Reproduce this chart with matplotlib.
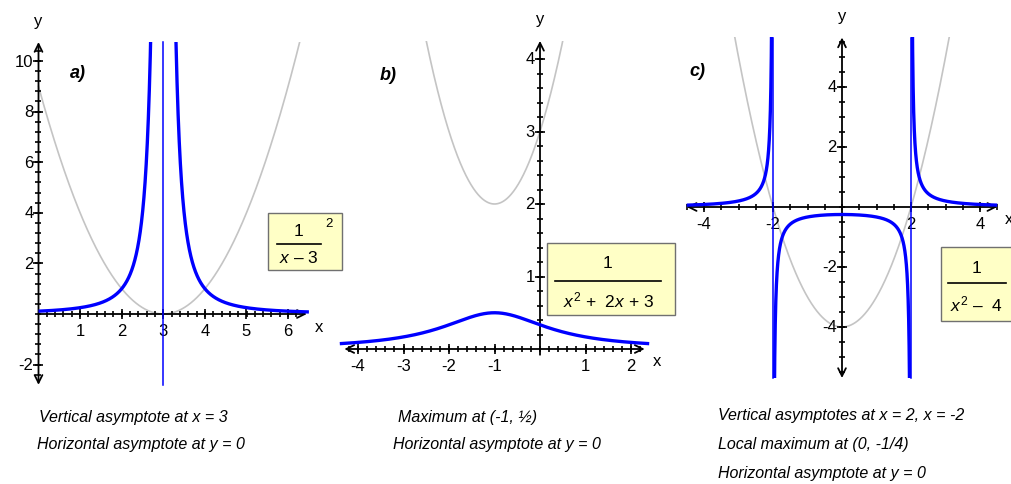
import numpy as np
import matplotlib.pyplot as plt
from matplotlib.patches import Rectangle

plt.rcParams['mathtext.fontset'] = 'custom'
plt.rcParams['mathtext.rm'] = 'Liberation Sans'
plt.rcParams['mathtext.it'] = 'Liberation Sans:italic'

W, H = 1012, 485

# denominators as polynomial coefficients; gray curve = den, blue curve = 1/den
den_a = [1, -6, 9]      # (x - 3)^2
den_b = [1, 2, 3]       # x^2 + 2x + 3
den_c = [1, 0, -4]      # x^2 - 4
asym_a = [3]
asym_b = []
asym_c = [-2, 2]
xrange_a = (0.0, 6.5)
xrange_b = (-4.4, 2.4)
xrange_c = (-4.5, 4.5)

xticks_a = [1, 2, 3, 4, 5, 6]
yticks_a = [-2, 2, 4, 6, 8, 10]
xticks_b = [-4, -3, -2, -1, 1, 2]
yticks_b = [1, 2, 3, 4]
xticks_c = [-4, -2, 2, 4]
yticks_c = [-4, -2, 2, 4]

notes_a = ["Vertical asymptote at x = 3", "Horizontal asymptote at y = 0"]
notes_b = ["Maximum at (-1, ½)", "Horizontal asymptote at y = 0"]
notes_c = ["Vertical asymptotes at x = 2, x = -2", "Local maximum at (0, -1/4)",
           "Horizontal asymptote at y = 0"]

BLUE = '#0000ff'
GRAY = '#c4c4c4'
tickfont = dict(family='Liberation Sans', size=12)

fig = plt.figure(figsize=(W / 100, H / 100), dpi=100)


def panel(ox, oy, sx, sy):
    # axes over the whole figure, origin at pixel (ox, oy), sx/sy pixels per unit
    ax = fig.add_axes([0, 0, 1, 1])
    ax.set_xlim(-ox / sx, (W - ox) / sx)
    ax.set_ylim((oy - H) / sy, oy / sy)
    ax.axis('off')
    return ax


def draw(ax, den, asym, xr, xaxis, yaxis, xt, yt, xminor, yminor, sx, sy):
    x0, x1 = xaxis[0], xaxis[1]
    y0, y1 = yaxis[0], yaxis[1]
    clip = Rectangle((x0 - 1, y0), x1 - x0 + 2, y1 - y0, transform=ax.transData)
    # gray parabola
    xs = np.linspace(xr[0], xr[1], 1500)
    g, = ax.plot(xs, np.polyval(den, xs), color=GRAY, lw=1.2, zorder=2)
    g.set_clip_path(clip)
    # axes with arrows
    ax.annotate('', xy=(x1, 0), xytext=(x0, 0),
                arrowprops=dict(arrowstyle=xaxis[2], color='k', lw=1.3,
                                mutation_scale=14, shrinkA=0, shrinkB=0), zorder=3)
    ax.annotate('', xy=(0, y1), xytext=(0, y0),
                arrowprops=dict(arrowstyle=yaxis[2], color='k', lw=1.3,
                                mutation_scale=14, shrinkA=0, shrinkB=0), zorder=3)
    ms_major, ms_minor = 7.5, 4.5
    ax.plot(xminor, np.zeros(len(xminor)), ls='none', marker='|', ms=ms_minor,
            mew=1.2, color='k', zorder=3)
    ax.plot(xt, np.zeros(len(xt)), ls='none', marker='|', ms=ms_major,
            mew=1.2, color='k', zorder=3)
    ax.plot(np.zeros(len(yminor)), yminor, ls='none', marker='_', ms=ms_minor,
            mew=1.2, color='k', zorder=3)
    ax.plot(np.zeros(len(yt)), yt, ls='none', marker='_', ms=ms_major,
            mew=1.2, color='k', zorder=3)
    for v in xt:
        ax.text(v, -17 / sy, f"{v}", ha='center', va='center', zorder=4, **tickfont)
    for v in yt:
        ax.text(-5 / sx, v, f"{v}", ha='right', va='center', zorder=4, **tickfont)
    ax.text(x1 + 12 / sx, -12 / sy, 'x', ha='center', va='center', zorder=4, **tickfont)
    ax.text(0, y1 + 22 / sy, 'y', ha='center', va='center', zorder=4, **tickfont)
    # blue reciprocal, split at the vertical asymptotes
    edges = [xr[0]] + list(asym) + [xr[1]]
    for a, b in zip(edges[:-1], edges[1:]):
        xs = np.linspace(a, b, 3000)[1:-1] if len(edges) > 2 else np.linspace(a, b, 3000)
        if a == xr[0]:
            xs = np.concatenate([[a], xs])
        if b == xr[1]:
            xs = np.concatenate([xs, [b]])
        ln, = ax.plot(xs, 1 / np.polyval(den, xs), color=BLUE, lw=2.4,
                      solid_capstyle='butt', zorder=5)
        ln.set_clip_path(clip)
    for v in asym:
        ax.plot([v, v], [y0, y1], color=BLUE, lw=1.1, zorder=5)


# panel a
sxa, sya = 41.6, 25.3
ax_a = panel(38.5, 315, sxa, sya)
draw(ax_a, den_a, asym_a, xrange_a, (0, 6.45, '->'), (-2.8, 10.75, '<->'),
     xticks_a, yticks_a, np.arange(0.2, 6.3, 0.2), np.arange(-2.4, 10.5, 0.4), sxa, sya)

# panel b
sxb, syb = 45.5, 72.5
ax_b = panel(540, 350, sxb, syb)
draw(ax_b, den_b, asym_b, xrange_b, (-4.3, 2.3, '<->'), (-0.08, 4.25, '->'),
     xticks_b, yticks_b, np.arange(-4.2, 2.3, 0.2), np.arange(0.2, 4.2, 0.2), sxb, syb)

# panel c
sxc, syc = 34.5, 30.0
ax_c = panel(842, 208, sxc, syc)
draw(ax_c, den_c, asym_c, xrange_c, (-4.5, 4.5, '<->'), (-5.7, 5.65, '<->'),
     xticks_c, yticks_c, np.arange(-4.5, 4.6, 0.5), np.arange(-5.5, 5.6, 0.5), sxc, syc)

# overlay in pixel coordinates for labels, boxes and notes
ov = fig.add_axes([0, 0, 1, 1])
ov.set_xlim(0, W)
ov.set_ylim(H, 0)
ov.axis('off')

lab = dict(family='Liberation Sans', size=13, weight='bold', style='italic',
           ha='center', va='center')
ov.text(78, 73, 'a)', **lab)
ov.text(388, 75, 'b)', **lab)
ov.text(697, 72, 'c)', **lab)

box = dict(facecolor='#ffffc6', edgecolor='#707070', lw=1.0, zorder=6)
ff = dict(size=12.5, ha='center', va='center', zorder=7, family='Liberation Sans')

ov.add_patch(Rectangle((268, 214), 74, 57, **box))
ov.text(299, 232, '1', **ff)
ov.plot([277, 321], [245, 245], color='k', lw=1.2, zorder=7)
ov.text(299, 258, r'$x$ – 3', **ff)
ov.text(329, 224, '2', size=9.5, ha='center', va='center', zorder=7, family='Liberation Sans')

ov.add_patch(Rectangle((547, 244), 128, 72, **box))
ov.text(608, 264, '1', **ff)
ov.plot([555, 661], [282, 282], color='k', lw=1.2, zorder=7)
ov.text(608, 300, r'$x^2$ +  2$x$ + 3', **ff)

ov.add_patch(Rectangle((941, 248), 80, 74, **box))
ov.text(977, 269, '1', **ff)
ov.plot([948, 1006], [284, 284], color='k', lw=1.2, zorder=7)
ov.text(976, 304, r'$x^2$ –  4', **ff)

nf = dict(family=['Liberation Sans Narrow', 'Liberation Sans'], style='italic',
          size=11.5, ha='left', va='center')
for i, s in enumerate(notes_a):
    ov.text(39 - 2 * i, 418 + 27 * i, s, **nf)
for i, s in enumerate(notes_b):
    ov.text(398 - 5 * i, 418 + 27 * i, s, **nf)
for i, s in enumerate(notes_c):
    ov.text(718, 416 + 29 * i, s, **nf)

fig.savefig('out.png', dpi=100)
